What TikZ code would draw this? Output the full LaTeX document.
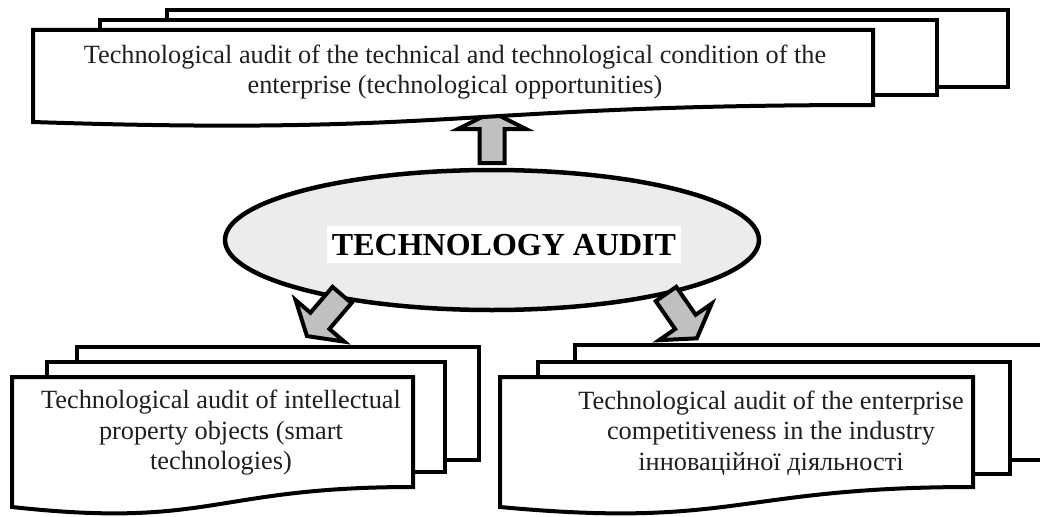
\documentclass[tikz,border=0pt]{standalone}
\usepackage{fontspec}
\setmainfont{Liberation Serif}
\usetikzlibrary{shapes.geometric}
\definecolor{arrowgray}{RGB}{192,192,192}
\definecolor{ellgray}{RGB}{236,236,236}
\tikzset{
  page/.style={draw=black, line width=4pt, fill=white, line join=miter},
  blockarrow/.style={draw=black, line width=4pt, fill=arrowgray, line join=miter, miter limit=10},
  bodytext/.style={font=\fontsize{26.3}{30.5}\selectfont, align=center, inner sep=0pt, text=black!88},
  hubshape/.style={ellipse, draw=black, line width=4.5pt, fill=ellgray, minimum width=534pt, minimum height=140pt, inner sep=0pt},
  hubtext/.style={fill=white, font=\fontsize{32}{36}\selectfont\bfseries, inner xsep=5pt, inner ysep=8pt, text height=21pt, text depth=0pt},
}
\begin{document}
\begin{tikzpicture}[x=1pt, y=-1pt]
\useasboundingbox (0,0) rectangle (1040,516);
\clip (0,0) rectangle (1040,516);
\fill[white] (0,0) rectangle (1040,516);

% up arrow (under the top document)
\draw[blockarrow, shift={(492,163)}, rotate=90]
  (0,-12.5) -- (34,-12.5) -- (34,-34) -- (51,0) -- (34,34) -- (34,12.5) -- (0,12.5) -- cycle;

% top multi-document
\draw[page] (167,10) rectangle (1008,87);
\draw[page] (100,20) rectangle (937,95);
\draw[page] (33,30) -- (873,30) -- (873,105) .. controls (453,105) and (453,136) .. (33,122) -- cycle;
\node[bodytext] (top) at (455,72) {Technological audit of the technical and technological condition of the\\enterprise (technological opportunities)};

% central ellipse
\node[hubshape] (hub) at (492,240) {};
\node[hubtext, anchor=base] (hublabel) at (504,255) {TECHNOLOGY AUDIT};

% diagonal arrows
\draw[blockarrow, shift={(342,295)}, rotate=229.5]
  (0,-12.5) -- (34,-12.5) -- (34,-32) -- (54,0) -- (34,32) -- (34,12.5) -- (0,12.5) -- cycle;
\draw[blockarrow, shift={(666,294)}, rotate=-55.2]
  (0,-12.5) -- (34,-12.5) -- (34,-32) -- (54,0) -- (34,32) -- (34,12.5) -- (0,12.5) -- cycle;

% bottom left multi-document
\draw[page] (77,347) rectangle (479,460);
\draw[page] (47,362) rectangle (445,472);
\draw[page] (12,377) -- (413,377) -- (413,487) .. controls (212,487) and (212,529) .. (12,507) -- cycle;
\node[bodytext] (left) at (221,433) {Technological audit of intellectual\\property objects (smart\\technologies)};

% bottom right multi-document
\draw[page] (575,345) rectangle (1080,460);
\draw[page] (538,362) rectangle (1010,474);
\draw[page] (500,377) -- (973,377) -- (973,487) .. controls (736,487) and (736,529) .. (500,507) -- cycle;
\node[bodytext] (right) at (771,433) {Technological audit of the enterprise\\competitiveness in the industry\\інноваційної діяльності};
\end{tikzpicture}
\end{document}
